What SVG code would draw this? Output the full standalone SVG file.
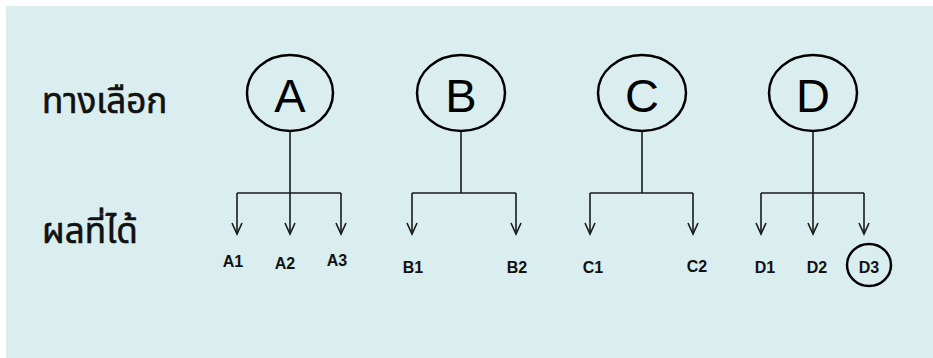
<svg xmlns="http://www.w3.org/2000/svg" width="933" height="358" viewBox="0 0 933 358">
<defs>
<style>
.bg{fill:#DAEDEF}
.big{fill:none;stroke:#000;stroke-width:2.5}
.ln{fill:none;stroke:#1a1a1a;stroke-width:1.6}
.ltr{font-family:"Liberation Sans",Arial,sans-serif;font-size:47px;text-anchor:middle;fill:#000}
.lbl{font-family:"Liberation Sans",Arial,sans-serif;font-size:16px;font-weight:bold;text-anchor:middle;fill:#111}
.th{font-family:"Noto Sans Thai","Noto Sans","DejaVu Sans",sans-serif;font-size:35px;fill:#111;stroke:#111;stroke-width:0.6}
</style>
<marker id="arr" markerWidth="14" markerHeight="12" refX="12" refY="6" orient="auto" markerUnits="userSpaceOnUse" viewBox="0 0 14 12">
<path d="M1,1 L12,6 L1,11" fill="none" stroke="#1a1a1a" stroke-width="1.6"/>
</marker>
</defs>
<rect class="bg" x="6" y="6" width="927" height="352"/>
<g id="row-labels">
<text class="th" x="42" y="113">ทางเลือก</text>
<text class="th" x="42" y="243">ผลที่ได้</text>
</g>
<g id="node-A"><ellipse class="big" cx="290" cy="93" rx="43" ry="38"/><text class="ltr" x="290" y="112">A</text></g>
<g id="node-B"><ellipse class="big" cx="461" cy="93" rx="44" ry="38"/><text class="ltr" x="461" y="112">B</text></g>
<g id="node-C"><ellipse class="big" cx="642" cy="93" rx="44" ry="38"/><text class="ltr" x="642" y="112">C</text></g>
<g id="node-D"><ellipse class="big" cx="813" cy="93" rx="44" ry="38"/><text class="ltr" x="813" y="112">D</text></g>
<g id="connectors">
<path class="ln" d="M290,131 V193"/>
<path class="ln" d="M237,193 H341"/>
<path class="ln" d="M237,193 V234" marker-end="url(#arr)"/>
<path class="ln" d="M290,193 V234" marker-end="url(#arr)"/>
<path class="ln" d="M341,193 V234" marker-end="url(#arr)"/>
<path class="ln" d="M461,131 V193"/>
<path class="ln" d="M412,193 H516"/>
<path class="ln" d="M412,193 V234" marker-end="url(#arr)"/>
<path class="ln" d="M516,193 V234" marker-end="url(#arr)"/>
<path class="ln" d="M642,131 V193"/>
<path class="ln" d="M590,193 H693"/>
<path class="ln" d="M590,193 V234" marker-end="url(#arr)"/>
<path class="ln" d="M693,193 V234" marker-end="url(#arr)"/>
<path class="ln" d="M813,131 V193"/>
<path class="ln" d="M761,193 H864"/>
<path class="ln" d="M761,193 V234" marker-end="url(#arr)"/>
<path class="ln" d="M813,193 V234" marker-end="url(#arr)"/>
<path class="ln" d="M864,193 V234" marker-end="url(#arr)"/>
</g>
<g id="out-A1"><text class="lbl" x="233" y="267">A1</text></g>
<g id="out-A2"><text class="lbl" x="285" y="269">A2</text></g>
<g id="out-A3"><text class="lbl" x="337" y="266">A3</text></g>
<g id="out-B1"><text class="lbl" x="413" y="273">B1</text></g>
<g id="out-B2"><text class="lbl" x="517" y="273">B2</text></g>
<g id="out-C1"><text class="lbl" x="593" y="273">C1</text></g>
<g id="out-C2"><text class="lbl" x="697" y="272">C2</text></g>
<g id="out-D1"><text class="lbl" x="765" y="273">D1</text></g>
<g id="out-D2"><text class="lbl" x="817" y="273">D2</text></g>
<g id="out-D3"><ellipse class="big" cx="869" cy="265" rx="22" ry="21"/><text class="lbl" x="869" y="273">D3</text></g>
</svg>
